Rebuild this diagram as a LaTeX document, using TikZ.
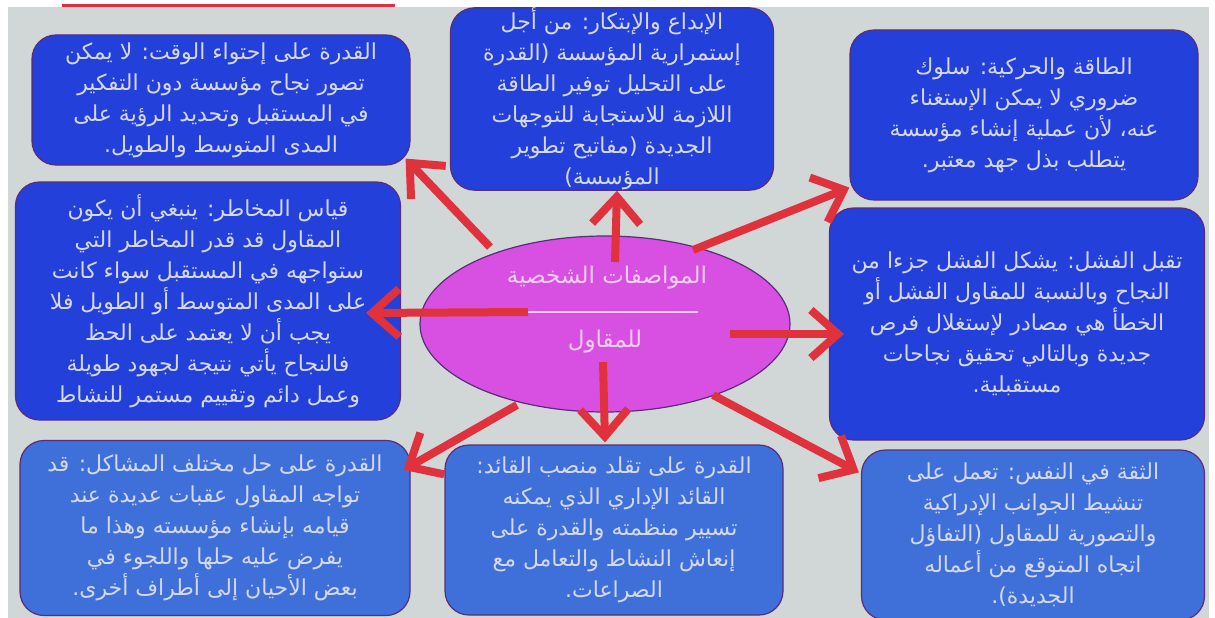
\documentclass[tikz,border=0pt]{standalone}
\usepackage{fontspec}
\usetikzlibrary{arrows.meta,shapes.geometric}
\newfontfamily\arabicfont[Script=Arabic]{DejaVu Sans}
\TeXXeTstate=1
\definecolor{CGrayBack}{HTML}{D1D6D7}
\definecolor{CBlueDeep}{HTML}{2440DA}
\definecolor{CBlueSoft}{HTML}{3F70DA}
\definecolor{CPurpleEdge}{HTML}{5A2C7A}
\definecolor{CMagenta}{HTML}{D850E2}
\definecolor{CRedArrow}{HTML}{E0323C}
\definecolor{CTextPale}{HTML}{D4D8EC}
\definecolor{CTextPink}{HTML}{F0CFF2}
\newcommand{\rl}[1]{\beginR #1\endR}

\begin{document}
\begin{tikzpicture}[x=1pt, y=-1pt,
    card/.style={draw=CPurpleEdge, line width=1.2pt, rounded corners=24pt, fill=CBlueDeep,
      text=CTextPale, align=center, inner sep=0pt,
      font=\arabicfont\fontsize{22}{31}\selectfont},
    soft/.style={fill=CBlueSoft},
    hub/.style={ellipse, draw=CPurpleEdge, line width=1.2pt, fill=CMagenta},
    hubtext/.style={text=CTextPink, font=\arabicfont\fontsize{23}{26}\selectfont},
    ray/.style={draw=CRedArrow, line width=8pt, -{Straight Barb[length=27pt,width=48pt]}}
]
  \useasboundingbox (0,0) rectangle (1215,618);
  \fill[white] (0,0) rectangle (1215,618);
  \fill[CGrayBack] (8,7) rectangle (1209,618);

  % the eight cards
  \node[card, minimum width=378pt, minimum height=130pt] (time) at (221,100) {%
    \rl{القدرة على إحتواء الوقت: لا يمكن}\\
    \rl{تصور نجاح مؤسسة دون التفكير}\\
    \rl{في المستقبل وتحديد الرؤية على}\\
    \rl{المدى المتوسط والطويل.}};
  \node[card, minimum width=323pt, minimum height=180pt] (creat) at (612,99) {%
    \rl{الإبداع والإبتكار: من أجل}\\
    \rl{إستمرارية المؤسسة (القدرة}\\
    \rl{على التحليل توفير الطاقة}\\
    \rl{اللازمة للاستجابة للتوجهات}\\
    \rl{الجديدة (مفاتيح تطوير}\\
    \rl{المؤسسة)}};
  \node[card, minimum width=348pt, minimum height=170pt] (energy) at (1024,115) {%
    \rl{الطاقة والحركية: سلوك}\\
    \rl{ضروري لا يمكن الإستغناء}\\
    \rl{عنه، لأن عملية إنشاء مؤسسة}\\
    \rl{يتطلب بذل جهد معتبر.}};
  \node[card, minimum width=385pt, minimum height=238pt] (risk) at (208,301) {%
    \rl{قياس المخاطر: ينبغي أن يكون}\\
    \rl{المقاول قد قدر المخاطر التي}\\
    \rl{ستواجهه في المستقبل سواء كانت}\\
    \rl{على المدى المتوسط أو الطويل فلا}\\
    \rl{يجب أن لا يعتمد على الحظ}\\
    \rl{فالنجاح يأتي نتيجة لجهود طويلة}\\
    \rl{وعمل دائم وتقييم مستمر للنشاط}};
  \node[card, minimum width=375pt, minimum height=232pt] (failure) at (1017,324) {%
    \rl{تقبل الفشل: يشكل الفشل جزءا من}\\
    \rl{النجاح وبالنسبة للمقاول الفشل أو}\\
    \rl{الخطأ هي مصادر لإستغلال فرص}\\
    \rl{جديدة وبالتالي تحقيق نجاحات}\\
    \rl{مستقبلية.}};
  \node[card, soft, minimum width=390pt, minimum height=175pt] (problems) at (215,528) {%
    \rl{القدرة على حل مختلف المشاكل: قد}\\
    \rl{تواجه المقاول عقبات عديدة عند}\\
    \rl{قيامه بإنشاء مؤسسته وهذا ما}\\
    \rl{يفرض عليه حلها واللجوء في}\\
    \rl{بعض الأحيان إلى أطراف أخرى.}};
  \node[card, soft, minimum width=338pt, minimum height=170pt] (leader) at (614,530) {%
    \rl{القدرة على تقلد منصب القائد:}\\
    \rl{القائد الإداري الذي يمكنه}\\
    \rl{تسيير منظمته والقدرة على}\\
    \rl{إنعاش النشاط والتعامل مع}\\
    \rl{الصراعات.}};
  \node[card, soft, minimum width=343pt, minimum height=170pt] (trust) at (1033,535) {%
    \rl{الثقة في النفس: تعمل على}\\
    \rl{تنشيط الجوانب الإدراكية}\\
    \rl{والتصورية للمقاول (التفاؤل}\\
    \rl{اتجاه المتوقع من أعماله}\\
    \rl{الجديدة).}};

  % centre
  \node[hub, minimum width=370pt, minimum height=176pt] (core) at (605,324) {};
  \node[hubtext] (coretop) at (607,278) {\rl{المواصفات الشخصية}};
  \node[hubtext] (corebot) at (605,342) {\rl{للمقاول}};
  \draw[CTextPink, line width=1.5pt] ([shift={(-77,-12)}]core.center) -- ([shift={(93,-12)}]core.center);

  % arrows
  \draw[ray] ([shift={(-115,-77)}]core.center) -- ([shift={(-5,-7)}]time.south east);
  \draw[ray] ([shift={(10,-62)}]core.center) -- ([shift={(5,0)}]creat.south);
  \draw[ray] ([shift={(88,-74)}]core.center) -- ([shift={(0,-13)}]energy.south west);
  \draw[ray] ([shift={(-77,-12)}]core.center) -- ([shift={(-35,12)}]risk.east);
  \draw[ray] ([shift={(125,10)}]core.center) -- ([shift={(15,10)}]failure.west);
  \draw[ray] ([shift={(-2,38)}]core.center) -- ([shift={(-9,-2)}]leader.north);
  \draw[ray] ([shift={(-88,81)}]core.center) -- ([shift={(-7,30)}]problems.north east);
  \draw[ray] ([shift={(108,71)}]core.center) -- ([shift={(-2,23)}]trust.north west);

  \fill[white] (0,0) rectangle (1215,7);
  \draw[CRedArrow, line width=3pt] (62,6) -- (395,6);
\end{tikzpicture}
\end{document}
